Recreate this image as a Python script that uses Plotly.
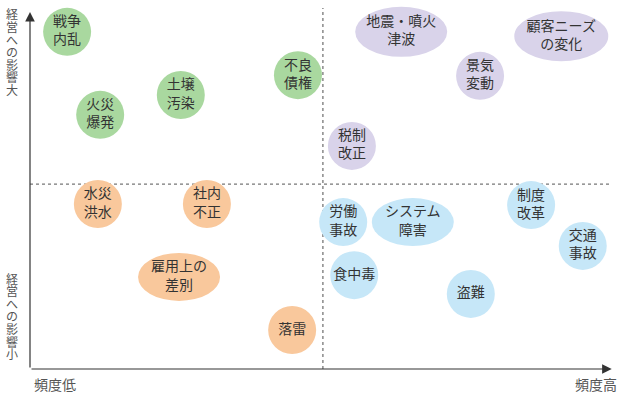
import plotly.graph_objects as go

# ---- data ----
labels = ["戦争<br>内乱", "火災<br>爆発", "土壌<br>汚染", "不良<br>債権",
          "地震・噴火<br>津波", "顧客ニーズ<br>の変化", "景気<br>変動", "税制<br>改正",
          "水災<br>洪水", "社内<br>不正", "雇用上の<br>差別", "落雷",
          "労働<br>事故", "システム<br>障害", "食中毒", "盗難", "制度<br>改革", "交通<br>事故"]
frequency = [0.64, 1.21, 2.60, 4.62,
             6.40, 9.16, 7.76, 5.55,
             1.17, 3.05, 2.57, 4.52,
             5.40, 6.60, 5.59, 7.60, 8.64, 9.53]
impact = [9.34, 7.04, 7.59, 8.14,
          9.34, 9.22, 8.12, 6.18,
          4.57, 4.57, 2.55, 1.08,
          4.07, 4.07, 2.60, 2.08, 4.54, 3.41]
group = ["g", "g", "g", "g",
         "p", "p", "p", "p",
         "o", "o", "o", "o",
         "b", "b", "b", "b", "b", "b"]
freq_mid = 5.05
impact_mid = 5.12
axis_top = 9.89
axis_right = 10.03

# ---- styles ----
colors = {"g": "#a9d89f", "p": "#d9d3ea", "o": "#f9c89c", "b": "#c6e7f8"}
wide = {"地震・噴火<br>津波": (92, 50), "顧客ニーズ<br>の変化": (94, 50),
        "システム<br>障害": (82, 48), "雇用上の<br>差別": (82, 48)}
FONT = "Noto Sans CJK JP"
TXT = "#333333"
W, H = 618, 394
X0PX, Y0PX = 30, 369   # pixel position of the origin
SX, SY = 58, 36.1

fig = go.Figure()

shapes = []
shapes.append(dict(type="line", xref="x", yref="y", x0=0, x1=axis_right,
                   y0=impact_mid, y1=impact_mid,
                   line=dict(color="#777777", width=1.3, dash="dot"), layer="below"))
shapes.append(dict(type="line", xref="x", yref="y", x0=freq_mid, x1=freq_mid,
                   y0=0, y1=10.0, line=dict(color="#777777", width=1.3, dash="dot"), layer="below"))

for lab, x, y, g in zip(labels, frequency, impact, group):
    w, h = wide.get(lab, (48, 48))
    shapes.append(dict(type="circle", xref="x", yref="y",
                       xsizemode="pixel", ysizemode="pixel",
                       xanchor=x, yanchor=y,
                       x0=-w / 2, x1=w / 2, y0=-h / 2, y1=h / 2,
                       fillcolor=colors[g], line=dict(width=0), layer="below"))

fig.add_trace(go.Scatter(x=frequency, y=impact, mode="text", text=labels,
                         textfont=dict(family=FONT, size=14, color=TXT),
                         textposition="middle center", hoverinfo="skip",
                         showlegend=False))

annotations = []
annotations.append(dict(x=axis_right, y=0, ax=0, ay=0, xref="x", yref="y",
                        axref="x", ayref="y", showarrow=True, arrowhead=2,
                        arrowsize=1.6, arrowwidth=1.2, arrowcolor="#333333", text=""))
annotations.append(dict(x=0, y=axis_top, ax=0, ay=0, xref="x", yref="y",
                        axref="x", ayref="y", showarrow=True, arrowhead=2,
                        arrowsize=1.6, arrowwidth=1.2, arrowcolor="#333333", text=""))


def vlabel_paper(text, top_px):
    for i, ch in enumerate(text):
        py = top_px + i * 12.6
        annotations.append(dict(x=12 / W, y=1 - py / H, xref="paper", yref="paper",
                                xanchor="center", yanchor="middle",
                                text=ch, showarrow=False, borderpad=0,
                                font=dict(family=FONT, size=12, color="#555555")))


vlabel_paper("経営への影響大", 14)
vlabel_paper("経営への影響小", 278)

annotations.append(dict(x=55 / W, y=1 - 384 / H, xref="paper", yref="paper",
                        text="頻度低", showarrow=False, xanchor="center", yanchor="middle",
                        font=dict(family=FONT, size=14, color="#555555")))
annotations.append(dict(x=596 / W, y=1 - 384 / H, xref="paper", yref="paper",
                        text="頻度高", showarrow=False, xanchor="center", yanchor="middle",
                        font=dict(family=FONT, size=14, color="#555555")))

fig.update_layout(width=W, height=H,
                  margin=dict(l=0, r=0, t=0, b=0, pad=0, autoexpand=False),
                  paper_bgcolor="white", plot_bgcolor="white",
                  shapes=shapes, annotations=annotations,
                  xaxis=dict(range=[-X0PX / SX, (W - X0PX) / SX], visible=False, fixedrange=True),
                  yaxis=dict(range=[-(H - Y0PX) / SY, Y0PX / SY], visible=False, fixedrange=True))

fig.write_html("out.html", config={"displayModeBar": False, "staticPlot": True},
               post_script="document.body.style.margin='0';document.body.style.overflow='hidden';")
